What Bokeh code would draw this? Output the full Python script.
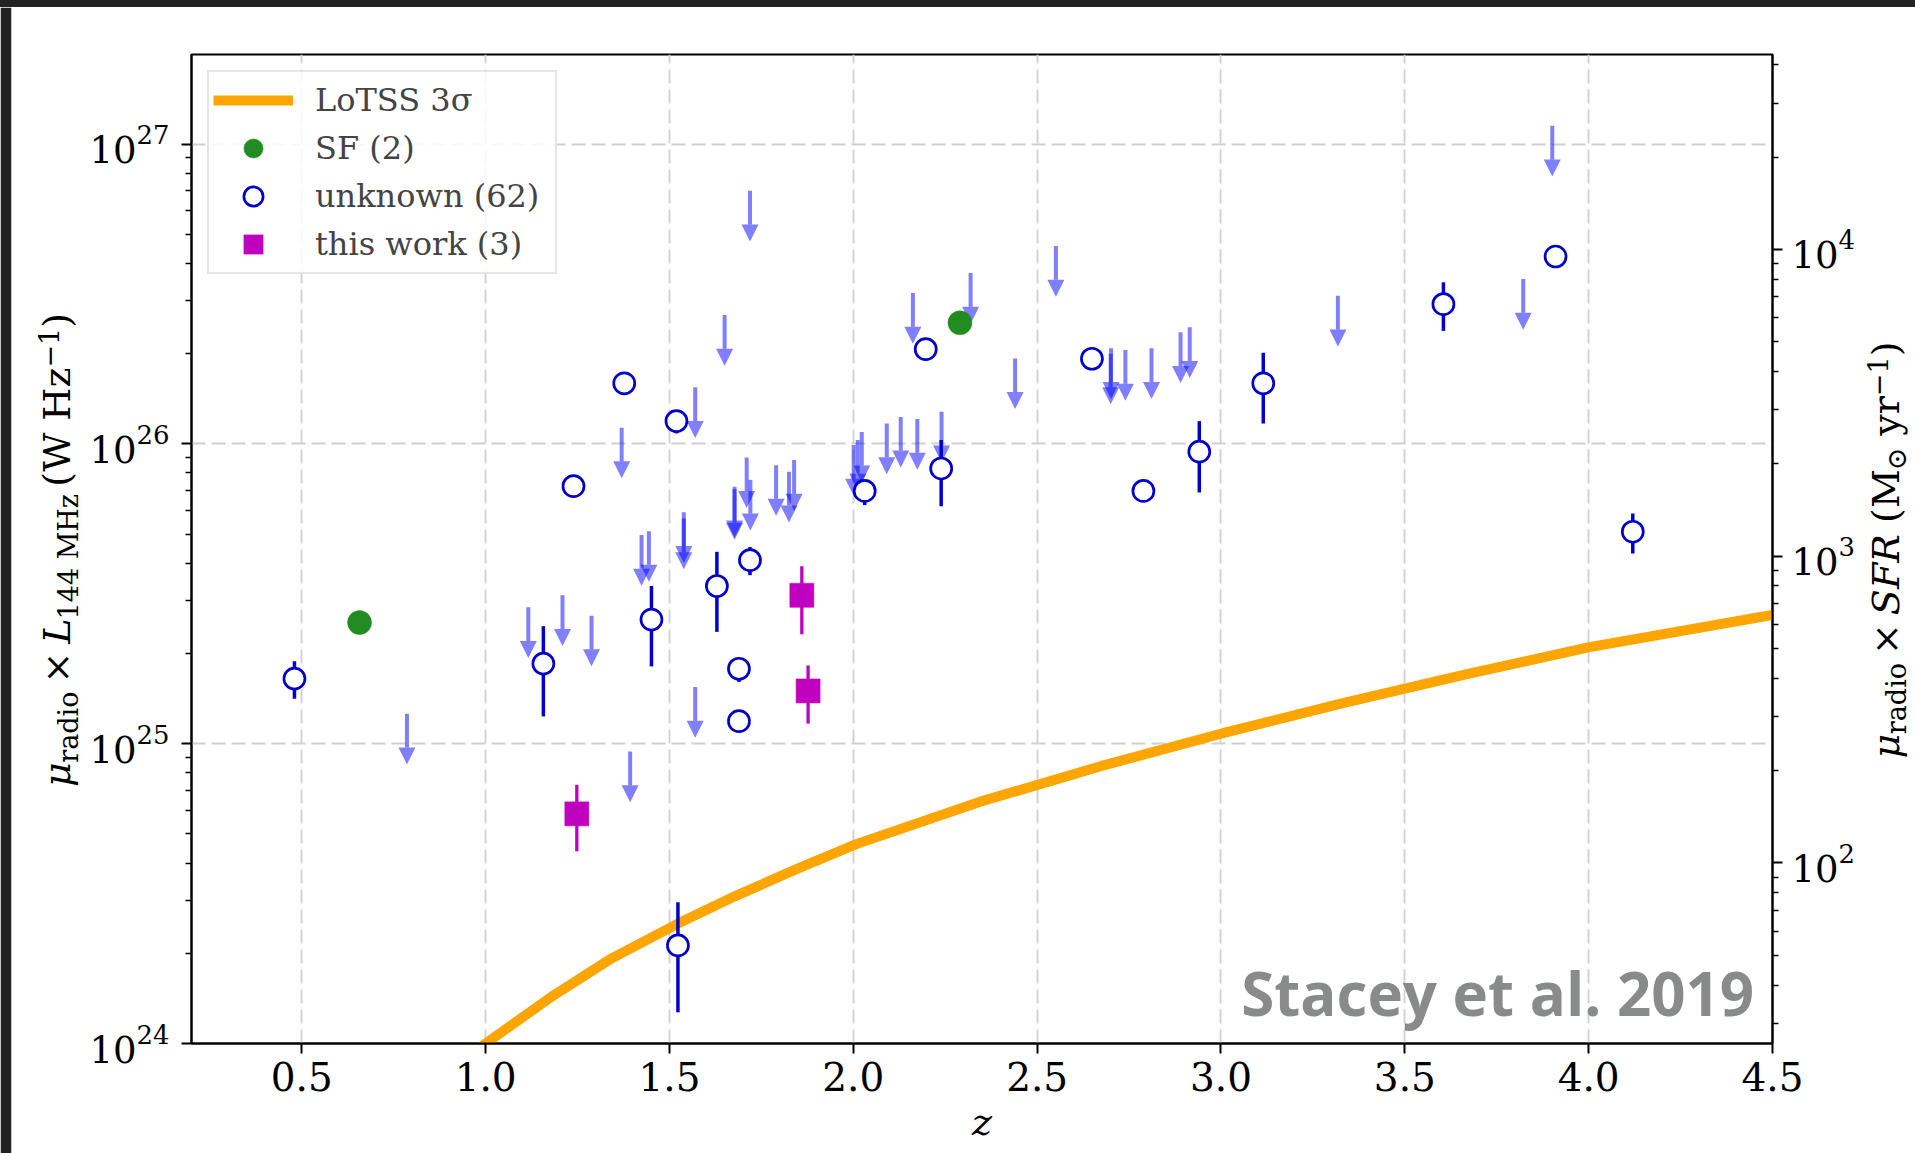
import numpy as np
from bokeh.plotting import figure
from bokeh.layouts import column, row
from bokeh.models import (ColumnDataSource, Range1d, LogAxis, FixedTicker, PrintfTickFormatter,
                          Legend, LegendItem, Arrow, NormalHead, Label, LogScale, Spacer)
from bokeh.embed import file_html
from bokeh.resources import INLINE

# ---------------- data ----------------
# detections, "unknown" class: redshift, log10 luminosity, error-bar ends
unk_z = [0.480, 1.157, 1.239, 1.377, 1.451, 1.519, 1.523, 1.629, 1.689, 1.689, 1.719,
         2.031, 2.197, 2.239, 2.649, 2.789, 2.941, 3.115, 3.605, 3.910, 4.120]
unk_logL = [25.217, 25.267, 25.859, 26.202, 25.414, 26.076, 24.327, 25.526, 25.250, 25.075, 25.612,
            25.843, 26.316, 25.918, 26.284, 25.843, 25.974, 26.202, 26.466, 26.625, 25.707]
unk_lo = [25.150, 25.091, 25.859, 26.202, 25.258, 26.035, 24.104, 25.373, 25.206, 25.075, 25.562,
          25.796, 26.316, 25.792, 26.284, 25.843, 25.838, 26.068, 26.377, 26.625, 25.634]
unk_hi = [25.275, 25.392, 25.859, 26.202, 25.526, 26.100, 24.471, 25.640, 25.280, 25.075, 25.656,
          25.880, 26.316, 26.013, 26.284, 25.843, 26.076, 26.304, 26.539, 26.625, 25.768]

# upper limits, "unknown" class
lim_z = [1.719, 1.650, 1.570, 1.370, 2.162, 2.319, 1.710, 1.720, 1.677, 1.677, 1.790,
         1.839, 1.825, 2.001, 2.012, 2.023, 2.091, 2.129, 2.174, 2.240, 2.551,
         2.440, 2.701, 2.700, 2.740, 2.811, 2.890, 2.915, 3.318, 3.901, 3.822,
         1.424, 1.444, 1.539, 1.539, 1.116, 1.209, 1.288, 0.786, 1.570, 1.393]
lim_logL = [26.844, 26.430, 26.189, 26.054, 26.503, 26.570, 25.955, 25.880, 25.857, 25.849, 25.929,
            25.946, 25.907, 25.996, 26.013, 26.040, 26.068, 26.090, 26.083, 26.107, 26.660,
            26.285, 26.319, 26.301, 26.313, 26.319, 26.372, 26.389, 26.494, 27.061, 26.550,
            25.696, 25.709, 25.772, 25.751, 25.455, 25.495, 25.427, 25.100, 25.189, 24.974]
LIMIT_ARROW_DEX = 0.169

# star-forming
sf_z = [0.657, 2.290]
sf_logL = [25.404, 26.404]

# this work
tw_z = [1.248, 1.860, 1.877]
tw_logL = [24.766, 25.495, 25.176]
tw_lo = [24.641, 25.365, 25.067]
tw_hi = [24.863, 25.592, 25.261]

# LoTSS 3 sigma limit curve
lotss_z = [0.98, 1.0, 1.178, 1.344, 1.523, 1.676, 1.842, 2.008, 2.341, 2.673, 3.005,
           3.337, 3.669, 4.002, 4.503]
lotss_logL = [23.982, 24.0, 24.155, 24.285, 24.40, 24.49, 24.58, 24.665, 24.805, 24.925, 25.035,
              25.137, 25.232, 25.322, 25.43]

x_ticks = [0.5, 1.0, 1.5, 2.0, 2.5, 3.0, 3.5, 4.0, 4.5]
yl_ticks = [1e24, 1e25, 1e26, 1e27]
yr_ticks = [1e2, 1e3, 1e4]

X_RANGE = (0.2, 4.5)
YL_RANGE = (1e24, 1.99e27)
YR_RANGE = (25.8, 43200.0)

# ---------------- styles ----------------
C_UNK = "#0000CD"
C_LIM = "#0000FF"
C_SF = "#228B22"
C_TW = "#BF00BF"
C_LOTSS = "#FFA500"
DARK = "#222222"
SERIF = "DejaVu Serif"

PAGE_W, PAGE_H = 1915, 1153
TOP_BAND = 7
LEFT_W, RIGHT_W = 86, 53
ROW_H = PAGE_H - TOP_BAND
MAIN_W = PAGE_W - LEFT_W - RIGHT_W
FW, FH = 1582, 989
ML, MT = 104, 47
BASELINE_FIX = 0.38   # em, correction between requested and drawn text baseline


def bare_fig(w, h, xr, yr, border_left=0, fill="white", border_fill="white"):
    f = figure(width=w, height=h, x_range=Range1d(*xr), y_range=Range1d(*yr),
               x_axis_location=None, y_axis_location=None, output_backend="svg",
               toolbar_location=None, min_border_left=border_left, min_border_right=0,
               min_border_top=0, min_border_bottom=0)
    f.frame_align = False
    f.outline_line_color = None
    f.background_fill_color = fill
    f.border_fill_color = border_fill
    f.grid.visible = False
    return f


p = figure(width=MAIN_W, height=ROW_H, x_range=Range1d(*X_RANGE), y_range=Range1d(*YL_RANGE),
           y_axis_type="log", output_backend="svg", toolbar_location=None,
           min_border_left=ML, min_border_right=MAIN_W - ML - FW, min_border_top=MT,
           min_border_bottom=ROW_H - MT - FH)
p.frame_align = False
p.background_fill_color = "white"
p.border_fill_color = "white"
p.outline_line_color = "black"
p.outline_line_width = 2
p.outline_line_alpha = 1.0

p.extra_y_ranges = {"sfr": Range1d(*YR_RANGE)}
p.extra_y_scales = {"sfr": LogScale()}


def minor_log(lo, hi):
    out = []
    for e in range(int(np.floor(np.log10(lo))), int(np.ceil(np.log10(hi))) + 1):
        for k in range(2, 10):
            v = k * 10.0 ** e
            if lo <= v <= hi:
                out.append(v)
    return out


p.xaxis.ticker = FixedTicker(ticks=x_ticks, minor_ticks=[])
p.xaxis.formatter = PrintfTickFormatter(format="%.1f")
p.yaxis.ticker = FixedTicker(ticks=yl_ticks, minor_ticks=minor_log(*YL_RANGE))

raxis = LogAxis(y_range_name="sfr",
                ticker=FixedTicker(ticks=yr_ticks, minor_ticks=minor_log(*YR_RANGE)))
p.add_layout(raxis, "right")

for ax in [p.xaxis[0], p.yaxis[0], raxis]:
    ax.axis_line_width = 2
    ax.axis_line_color = "black"
    ax.major_tick_line_width = 2
    ax.minor_tick_line_width = 1.5
    ax.major_tick_out = 10
    ax.major_tick_in = 0
    ax.minor_tick_out = 6
    ax.minor_tick_in = 0
    ax.major_label_text_font = SERIF
    ax.major_label_text_color = "black"
p.xaxis.major_label_text_font_size = "39px"
p.yaxis.major_label_text_font_size = "37px"
raxis.major_label_text_font_size = "37px"
p.xaxis.major_label_standoff = 8
p.yaxis.major_label_standoff = 12
raxis.major_label_standoff = 9

p.xaxis.axis_label = "z"
p.xaxis.axis_label_text_font = SERIF
p.xaxis.axis_label_text_font_style = "italic"
p.xaxis.axis_label_text_font_size = "38px"
p.xaxis.axis_label_text_color = "black"
p.xaxis.axis_label_standoff = 6

for g in [p.xgrid[0], p.ygrid[0]]:
    g.grid_line_color = "#d0d0d0"
    g.grid_line_width = 1.8
    g.grid_line_dash = "14 6"
p.xgrid.ticker = FixedTicker(ticks=x_ticks)
p.ygrid.ticker = FixedTicker(ticks=yl_ticks)

# ---------------- marks ----------------
lotss = p.line(x=lotss_z, y=10.0 ** np.array(lotss_logL), line_color=C_LOTSS, line_width=10)

lim_top = 10.0 ** np.array(lim_logL)
lim_src = ColumnDataSource(dict(z=lim_z, top=lim_top, tip=lim_top * 10.0 ** (-LIMIT_ARROW_DEX)))
arrows = Arrow(end=NormalHead(size=17, fill_color=C_LIM, fill_alpha=0.5, line_color=None),
               x_start="z", y_start="top", x_end="z", y_end="tip", source=lim_src,
               line_color=C_LIM, line_alpha=0.5, line_width=4, level="underlay")
p.add_layout(arrows)

unk_src = ColumnDataSource(dict(z=unk_z, L=10.0 ** np.array(unk_logL),
                                lo=10.0 ** np.array(unk_lo), hi=10.0 ** np.array(unk_hi)))
p.segment(x0="z", y0="lo", x1="z", y1="hi", source=unk_src, line_color=C_UNK, line_width=3.5)
unk_r = p.scatter(x="z", y="L", source=unk_src, marker="circle", size=21,
                  fill_color="white", line_color=C_UNK, line_width=2.7)

sf_r = p.scatter(x=sf_z, y=10.0 ** np.array(sf_logL), marker="circle", size=24,
                 fill_color=C_SF, line_color=C_SF, line_width=0.5)

tw_src = ColumnDataSource(dict(z=tw_z, L=10.0 ** np.array(tw_logL),
                               lo=10.0 ** np.array(tw_lo), hi=10.0 ** np.array(tw_hi)))
p.segment(x0="z", y0="lo", x1="z", y1="hi", source=tw_src, line_color=C_TW, line_width=3.3)
tw_r = p.scatter(x="z", y="L", source=tw_src, marker="square", size=24,
                 fill_color=C_TW, line_color=C_TW, line_width=0.5)

legend = Legend(items=[LegendItem(label="LoTSS 3σ", renderers=[lotss]),
                       LegendItem(label="SF (2)", renderers=[sf_r]),
                       LegendItem(label="unknown (62)", renderers=[unk_r]),
                       LegendItem(label="this work (3)", renderers=[tw_r])],
                location="top_left", margin=16, padding=4, spacing=0,
                glyph_width=80, glyph_height=48, label_standoff=22, label_width=236,
                label_text_font=SERIF, label_text_font_size="32px",
                border_line_color="#cccccc", border_line_width=2,
                background_fill_color="white", background_fill_alpha=0.85)
p.add_layout(legend)

# watermark
LOG_Y0, LOG_Y1 = np.log10(YL_RANGE[0]), np.log10(YL_RANGE[1])


def yd(px):
    return 10.0 ** (LOG_Y0 + px * (LOG_Y1 - LOG_Y0) / FH)


p.add_layout(Label(x=4.45, y=yd(51), text="Stacey et al. 2019", text_align="right",
                   text_baseline="alphabetic", text_font="Open Sans", text_font_size="60px",
                   text_font_style="bold", text_color="#898b8b"))

# ---------------- side panels holding the composite axis titles ----------------
# their data coordinates are page pixels (y grows downwards)
left_fig = bare_fig(LEFT_W, ROW_H, (11, LEFT_W), (PAGE_H, TOP_BAND), border_left=11,
                    border_fill=DARK)
right_fig = bare_fig(RIGHT_W, ROW_H, (PAGE_W - RIGHT_W, PAGE_W), (PAGE_H, TOP_BAND))
top_band = Spacer(width=PAGE_W, height=TOP_BAND, styles={"background-color": DARK})

F_MAIN, F_SCRIPT = 38, 27
# (text, size, style, baseline shift, advance) ; advance in px along the text direction
left_pieces = [
    ("μ", F_MAIN, "italic", 0, 24.3),
    ("radio", F_SCRIPT, "normal", 7, 79.2),
    ("×", F_MAIN, "normal", 0, 39.8),
    ("L", F_MAIN, "italic", 0, 24.3),
    ("144 MHz", F_SCRIPT, "normal", 7, 132.8),
    ("(W Hz", F_MAIN, "normal", 0, 119.1),
    ("−1", F_SCRIPT, "normal", -13, 39.8),
    (")", F_MAIN, "normal", 0, 14.8),
]
right_pieces = [
    ("μ", F_MAIN, "italic", 0, 24.3),
    ("radio", F_SCRIPT, "normal", 6, 79.2),
    ("×", F_MAIN, "normal", 0, 39.8),
    ("SFR", F_MAIN, "italic", 0, 92.2),
    ("(M", F_MAIN, "normal", 0, 52.6),
    ("⊙", F_SCRIPT, "normal", 6, 34.6),
    ("yr", F_MAIN, "normal", 0, 39.6),
    ("−1", F_SCRIPT, "normal", -13, 39.8),
    (")", F_MAIN, "normal", 0, 14.8),
]


def add_vertical_title(fig, baseline_x, center_y, pieces):
    total = sum(pc[4] for pc in pieces)
    y = center_y + total / 2.0
    for text, size, style, shift, adv in pieces:
        fig.add_layout(Label(x=baseline_x + shift - BASELINE_FIX * size, y=y, text=text,
                             angle=np.pi / 2, text_align="left", text_baseline="alphabetic",
                             text_font=SERIF, text_font_size=f"{size}px",
                             text_font_style=style, text_color="black"))
        y -= adv


add_vertical_title(left_fig, 71, 549.5, left_pieces)
add_vertical_title(right_fig, 1900, 549.5, right_pieces)

layout = column(top_band, row(left_fig, p, right_fig))

open("out.html", "w").write(file_html(layout, INLINE))
